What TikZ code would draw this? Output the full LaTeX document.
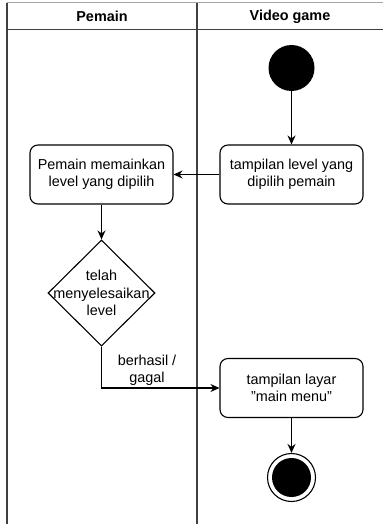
\documentclass[tikz,border=0pt]{standalone}
\usepackage{fontspec}
\setmainfont{Liberation Sans}
\usetikzlibrary{arrows.meta,shapes.geometric}
\begin{document}
\begin{tikzpicture}[x=1pt,y=-1pt,
  every node/.style={font=\fontsize{14.4}{17.5}\selectfont},
  actbox/.style={draw,line width=1.1pt,rounded corners=8pt,minimum width=143pt,minimum height=59pt,inner sep=0pt,align=center},
  lane/.style={draw=black!75,line width=1.1pt},
  arr/.style={draw,line width=1.1pt,-{Stealth[length=9pt,width=8pt]}},
  hdr/.style={font=\fontsize{14.4}{17.5}\selectfont\bfseries}]
\useasboundingbox (0,0) rectangle (383,524);
% swimlanes
\draw[draw=black!35,line width=1pt] (7,3) -- (383,3);
\draw[lane] (7,3) -- (7,524);
\draw[lane] (197,3) -- (197,524);
\draw[lane] (7,29.5) -- (383,29.5);
\node[hdr] (h1) at (102,16.5) {Pemain};
\node[hdr] (h2) at (290,16.5) {Video game};
% nodes
\node[circle,fill=black,minimum size=46pt,inner sep=0pt] (start) at (291.5,68) {};
\node[actbox] (b2) at (291.5,174.5) {tampilan level yang\\dipilih pemain};
\node[actbox] (b1) at (101.5,174.5) {Pemain memainkan\\level yang dipilih};
\node[diamond,draw,line width=1.1pt,minimum width=107pt,minimum height=106pt,inner sep=0pt] (d) at (101.5,293) {};
\node[align=center] (dt) at (d.center) {telah\\menyelesaikan\\level};
\node[actbox] (b3) at (291.5,388) {tampilan layar\\\symbol{34}main menu\symbol{34}};
\node[circle,draw,line width=1.1pt,minimum size=48pt,inner sep=0pt] (end) at (291.5,477.5) {};
\node[circle,fill=black,minimum size=39pt,inner sep=0pt] (endin) at (end.center) {};
% edges
\draw[arr] (start) -- (b2);
\draw[arr] (b2) -- (b1);
\draw[arr] (b1) -- (d.north);
\draw[arr] (d.south) |- (b3.west);
\node[align=center] (lbl) at (147,370.5) {berhasil /\\gagal};
\draw[arr] (b3) -- (end);
\end{tikzpicture}
\end{document}
